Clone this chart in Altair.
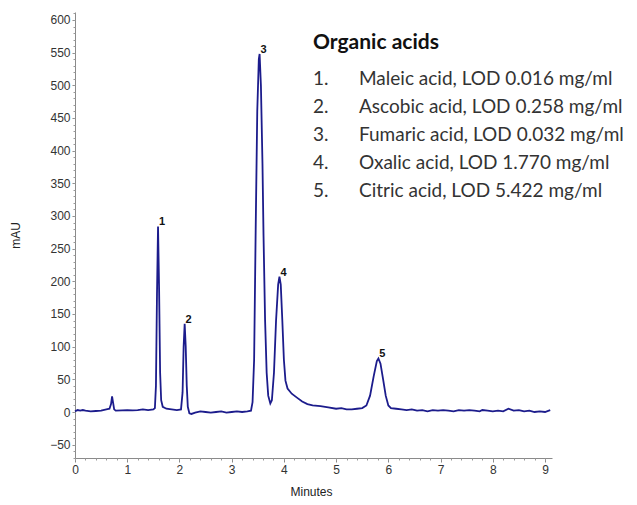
import altair as alt
import pandas as pd

# Chromatogram trace (minutes, mAU)
minutes = [0.00, 0.05, 0.10, 0.15, 0.20, 0.30, 0.40, 0.50, 0.60, 0.66, 0.69, 0.71, 0.73, 0.75, 0.78,
           0.90, 1.00, 1.10, 1.20, 1.30, 1.40, 1.50, 1.53, 1.55, 1.57, 1.59, 1.61, 1.63, 1.65, 1.68,
           1.75, 1.85, 1.95, 2.03, 2.06, 2.08, 2.10, 2.12, 2.14, 2.16, 2.19, 2.23, 2.30, 2.40, 2.50,
           2.60, 2.70, 2.80, 2.90, 3.00, 3.10, 3.20, 3.30, 3.37, 3.40, 3.43, 3.46, 3.49, 3.52, 3.535,
           3.56, 3.59, 3.61, 3.64, 3.67, 3.70, 3.74, 3.77, 3.81, 3.85, 3.89, 3.915, 3.94, 3.97, 4.00,
           4.03, 4.07, 4.15, 4.25, 4.35, 4.45, 4.55, 4.70, 4.85, 5.00, 5.10, 5.20, 5.30, 5.40, 5.50,
           5.58, 5.65, 5.72, 5.78, 5.81, 5.85, 5.90, 5.95, 6.00, 6.05, 6.15, 6.25, 6.35, 6.45, 6.55,
           6.65, 6.75, 6.85, 6.95, 7.05, 7.15, 7.25, 7.35, 7.45, 7.55, 7.65, 7.75, 7.80, 7.90, 8.00,
           8.10, 8.20, 8.30, 8.40, 8.50, 8.60, 8.70, 8.80, 8.90, 9.00, 9.10]
mau = [1, 3, 2, 3, 2, 1, 1.5, 2, 4, 5, 12, 24, 14, 4, 2,
       2.5, 3, 2.5, 3, 4, 3, 4, 6, 40, 180, 284, 190, 60, 18, 8,
       5, 4, 3, 4, 30, 100, 135, 100, 40, 8, -2, -3, -1, 1, 0,
       -1, 0, 1, -1, 0, 1, 0, 1, 2, 15, 80, 280, 460, 540, 548,
       500, 380, 270, 140, 60, 25, 13, 18, 60, 140, 195, 207, 195, 140, 80,
       48, 36, 28, 22, 16, 12, 10, 9, 7, 5, 6, 4, 4, 5, 6,
       10, 25, 55, 78, 82, 74, 50, 25, 10, 6, 5, 4, 3, 4, 2,
       3, 1, 3, 2, 3, 2, 1, 3, 2, 3, 2, 1, 3, 2, 1,
       2, 1, 5, 2, 3, 1, 2, 0, 1, 0, 3]

peak_ids = ["1", "2", "3", "4", "5"]
peak_minutes = [1.59, 2.10, 3.535, 3.915, 5.81]
peak_mau = [284, 135, 548, 207, 82]

x_ticks = list(range(10))
y_ticks = list(range(-50, 601, 50))
x_minor = [round(i * 0.2, 1) for i in range(46)]
y_minor = list(range(-70, 611, 10))

legend_title = "Organic acids"
legend_numbers = ["1.", "2.", "3.", "4.", "5."]
legend_items = ["Maleic acid, LOD 0.016 mg/ml",
                "Ascobic acid, LOD 0.258 mg/ml",
                "Fumaric acid, LOD 0.032 mg/ml",
                "Oxalic acid, LOD 1.770 mg/ml",
                "Citric acid, LOD 5.422 mg/ml"]

trace = pd.DataFrame({"Minutes": minutes, "mAU": mau})
peaks = pd.DataFrame({"Minutes": peak_minutes, "mAU": peak_mau, "id": peak_ids})

W, H = 477, 446
xscale = alt.Scale(domain=[0, 9.134], nice=False, zero=False)
yscale = alt.Scale(domain=[-70.4, 612.2], nice=False, zero=False)

axis_common = dict(domainColor="#8a8a8a", tickColor="#8a8a8a", labelColor="#333333",
                   labelFont="Liberation Sans", labelFontSize=12, titleFont="Liberation Sans",
                   titleFontSize=12, titleColor="#222222", titleFontWeight="normal", grid=False,
                   domainWidth=1, tickWidth=1, labelOverlap=False, labelFlush=False)

line = alt.Chart(trace).mark_line(color="#1c1c8c", strokeWidth=1.8, interpolate="linear").encode(
    x=alt.X("Minutes:Q", scale=xscale,
            axis=alt.Axis(values=x_ticks, tickSize=4, labelPadding=2, title="Minutes",
                          orient="bottom", titleX=236, titleY=33, titleBaseline="middle",
                          **axis_common)),
    y=alt.Y("mAU:Q", scale=yscale,
            axis=alt.Axis(values=y_ticks, tickSize=3, labelPadding=2, title="mAU",
                          orient="left", titleX=-60, titleY=223, titleBaseline="middle",
                          titleAngle=-90, **axis_common)),
)

minor = alt.Chart(trace).mark_line(opacity=0).encode(
    x=alt.X("Minutes:Q", scale=xscale,
            axis=alt.Axis(values=x_minor, tickSize=2, labels=False, domain=False, title=None,
                          orient="bottom", tickColor="#9a9a9a", grid=False)),
    y=alt.Y("mAU:Q", scale=yscale,
            axis=alt.Axis(values=y_minor, tickSize=2, labels=False, domain=False, title=None,
                          orient="left", tickColor="#9a9a9a", grid=False)),
)

labels = alt.Chart(peaks).mark_text(font="Liberation Sans", fontSize=11, fontWeight="bold",
                                    color="#111111", align="center", baseline="alphabetic",
                                    dx=4, dy=-1).encode(
    x=alt.X("Minutes:Q", scale=xscale, axis=None),
    y=alt.Y("mAU:Q", scale=yscale, axis=None),
    text="id:N",
)

title_mark = alt.Chart(pd.DataFrame({"t": [legend_title]})).mark_text(
    font="Lato", fontSize=21, fontWeight="bold", color="#111111", align="left", baseline="middle"
).encode(x=alt.value(313 - 75), y=alt.value(43 - 12), text="t:N")

num_mark = alt.Chart(pd.DataFrame({"t": ["\n".join(legend_numbers)]})).mark_text(
    font="Lato", fontSize=19, color="#333333", align="left", baseline="top", lineHeight=28,
    lineBreak="\n"
).encode(x=alt.value(313 - 75), y=alt.value(58), text="t:N")

item_mark = alt.Chart(pd.DataFrame({"t": ["\n".join(legend_items)]})).mark_text(
    font="Lato", fontSize=19, color="#333333", align="left", baseline="top", lineHeight=28,
    lineBreak="\n"
).encode(x=alt.value(359 - 75), y=alt.value(58), text="t:N")

chart = alt.layer(line, minor, labels, title_mark, num_mark, item_mark).resolve_axis(
    x="independent", y="independent"
).properties(
    width=W, height=H,
    autosize=alt.AutoSizeParams(type="none"),
    padding={"left": 67, "top": 4, "right": 77, "bottom": 39},
).configure(background="white").configure_view(strokeWidth=0, stroke="transparent")

chart.save("out.html", embed_options={"renderer": "svg", "actions": False})
